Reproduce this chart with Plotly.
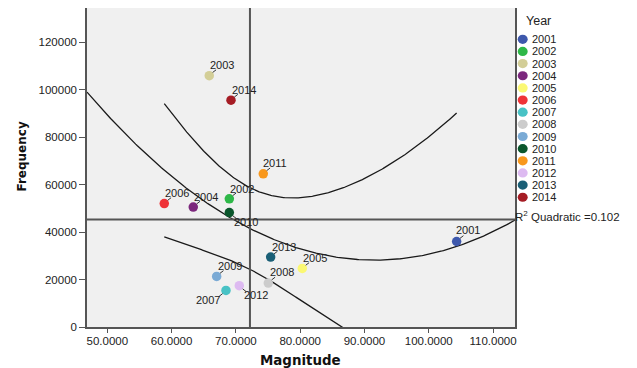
import numpy as np
import plotly.graph_objects as go

# ---------------- data ----------------
years = ["2001", "2002", "2003", "2004", "2005", "2006", "2007",
         "2008", "2009", "2010", "2011", "2012", "2013", "2014"]
magnitude = [104.34, 68.98, 65.86, 63.37, 80.33, 58.86, 68.46,
             75.04, 67.01, 68.98, 74.26, 70.53, 75.41, 69.24]
frequency = [36040, 54020, 105940, 50530, 24670, 52040, 15400,
             18530, 21300, 48250, 64550, 17400, 29470, 95580]
x_ticks = [50, 60, 70, 80, 90, 100, 110]
y_ticks = [0, 20000, 40000, 60000, 80000, 100000, 120000]
r2_label = "0.102"

# ---------------- styles ----------------
colors = ["#3E58AC", "#2EB848", "#D3CE97", "#7C287D", "#FBF873", "#EF3338",
          "#48C2C5", "#CCCCCC", "#7AAAD5", "#0A562C", "#F8981D", "#DDBAF1",
          "#1A5F76", "#A51C24"]
FONT = "Arial, 'Liberation Sans', sans-serif"
TITLE_FONT = "'DejaVu Sans', Verdana, sans-serif"
X_RANGE = [46.84, 113.42]
Y_RANGE = [0, 134450]
label_offset = {y: (13, -10.5) for y in years}
label_offset.update({"2001": (11.6, -11), "2002": (12.4, -9.7), "2007": (-18.3, 9.3),
                     "2010": (16.4, 9), "2011": (11.7, -10.7), "2012": (16.7, 9),
                     "2008": (13.4, -11)})
# leader direction (sx, sy): +1 right / +1 up
leader_dir = {y: (1, 1) for y in years}
leader_dir.update({"2007": (-1, -1), "2010": (1, -1), "2012": (1, -1)})

PAGE_OFF = 8               # body margin of the html page
W, H = 637 - PAGE_OFF, 368 - PAGE_OFF
ML, MT = 87 - PAGE_OFF, 8 - PAGE_OFF
MR = W + PAGE_OFF - 515
MB = H + PAGE_OFF - 327
PW, PH = W - ML - MR, H - MT - MB

x = np.array(magnitude, dtype=float)
y = np.array(frequency, dtype=float)
n = len(x)

# quadratic fit and 95% confidence band for the mean
X = np.column_stack([np.ones(n), x, x ** 2])
beta, *_ = np.linalg.lstsq(X, y, rcond=None)
resid = y - X @ beta
s = np.sqrt(resid @ resid / (n - 3))
t_crit = 2.201  # t(0.975, df=11)
sxx = ((x - x.mean()) ** 2).sum()

xs_fit = np.linspace(X_RANGE[0], X_RANGE[1], 300)
ys_fit = np.column_stack([np.ones_like(xs_fit), xs_fit, xs_fit ** 2]) @ beta

xs_ci = np.linspace(x.min(), x.max(), 300)
yc = np.column_stack([np.ones_like(xs_ci), xs_ci, xs_ci ** 2]) @ beta
half = t_crit * s * np.sqrt(1.0 / n + (xs_ci - x.mean()) ** 2 / sxx)
upper = yc + half
lower = yc - half

fig = go.Figure()
line_style = dict(color="#1a1a1a", width=1.3)
for xx, yy in [(xs_fit, ys_fit), (xs_ci, upper), (xs_ci, lower)]:
    fig.add_trace(go.Scatter(x=xx, y=yy, mode="lines", line=line_style,
                             showlegend=False, hoverinfo="skip"))

fig.add_trace(go.Scatter(x=magnitude, y=frequency, mode="markers",
                         marker=dict(color=colors, size=9.5, line=dict(width=0)),
                         text=years, showlegend=False))

# mean reference lines
ref = dict(color="#555555", width=2)
fig.add_shape(type="line", xref="x", yref="paper", x0=x.mean(), x1=x.mean(),
              y0=0, y1=1, line=ref)
fig.add_shape(type="line", xref="paper", yref="y", x0=0, x1=1,
              y0=y.mean(), y1=y.mean(), line=ref)

annotations = []
for yr, mx, fy in zip(years, magnitude, frequency):
    dx, dy = label_offset[yr]
    annotations.append(dict(x=mx, y=fy, xref="x", yref="y", text=yr,
                            showarrow=False, xshift=dx, yshift=-dy,
                            font=dict(family=FONT, size=11, color="#222222")))
    sx, sy = leader_dir[yr]
    fig.add_shape(type="line", xref="x", yref="y",
                  xsizemode="pixel", ysizemode="pixel", xanchor=mx, yanchor=fy,
                  x0=3.4 * sx, x1=6.8 * sx, y0=3.2 * sy, y1=5.8 * sy,
                  line=dict(color="#333333", width=1))

annotations.append(dict(x=1, xref="paper", y=ys_fit[-1], yref="y",
                        text="R<sup>2</sup> Quadratic =" + r2_label,
                        showarrow=False, xanchor="left", yanchor="middle",
                        xshift=-2, yshift=4,
                        font=dict(family=FONT, size=11.5, color="#222222")))

def px_to_paper(px, py):
    return (px - PAGE_OFF - ML) / PW, (H + PAGE_OFF - MB - py) / PH

# axis titles
tx, ty = px_to_paper(300.5, 360.5)
annotations.append(dict(x=tx, y=ty, xref="paper", yref="paper",
                        text="<b>Magnitude</b>", showarrow=False,
                        xanchor="center", yanchor="middle",
                        font=dict(family=TITLE_FONT, size=13.4, color="#111111")))
tx, ty = px_to_paper(21.5, 157)
annotations.append(dict(x=tx, y=ty, xref="paper", yref="paper",
                        text="<b>Frequency</b>", showarrow=False, textangle=-90,
                        xanchor="center", yanchor="middle",
                        font=dict(family=TITLE_FONT, size=12, color="#111111")))

# legend built by hand (compact SPSS-style spacing)
lx0, ly0 = px_to_paper(524, 21)
annotations.append(dict(x=lx0, y=ly0, xref="paper", yref="paper", text="Year",
                        showarrow=False, xanchor="left", yanchor="middle",
                        font=dict(family=FONT, size=12.5, color="#222222")))
for i, (yr, c) in enumerate(zip(years, colors)):
    py = 39.3 + 12.15 * i
    mxp, myp = px_to_paper(522.7, py)
    fig.add_shape(type="circle", xref="paper", yref="paper",
                  xsizemode="pixel", ysizemode="pixel",
                  xanchor=mxp, yanchor=myp, x0=-5, x1=5, y0=-4.6, y1=4.6,
                  fillcolor=c, line=dict(width=0), layer="above")
    txp, typ = px_to_paper(529.5, py)
    annotations.append(dict(x=txp, y=typ, xref="paper", yref="paper", text=yr,
                            showarrow=False, xanchor="left", yanchor="middle",
                            font=dict(family=FONT, size=11, color="#222222")))

axis_common = dict(showgrid=False, zeroline=False, showline=True, mirror=True,
                   linecolor="#555555", linewidth=1.5, ticks="outside",
                   tickwidth=1.3, tickcolor="#555555",
                   tickfont=dict(family=FONT, size=11.5, color="#222222"))

fig.update_layout(
    width=W, height=H,
    margin=dict(l=ML, r=MR, t=MT, b=MB, autoexpand=False),
    paper_bgcolor="white", plot_bgcolor="#F0F0F0",
    showlegend=False,
    xaxis=dict(range=X_RANGE, tickvals=x_ticks, tickformat=".4f", ticklen=4,
               ticklabelstandoff=-2, **axis_common),
    yaxis=dict(range=Y_RANGE, tickvals=y_ticks, tickformat="d", ticklen=6,
               **axis_common),
    annotations=annotations,
)

fig.write_html("out.html")
